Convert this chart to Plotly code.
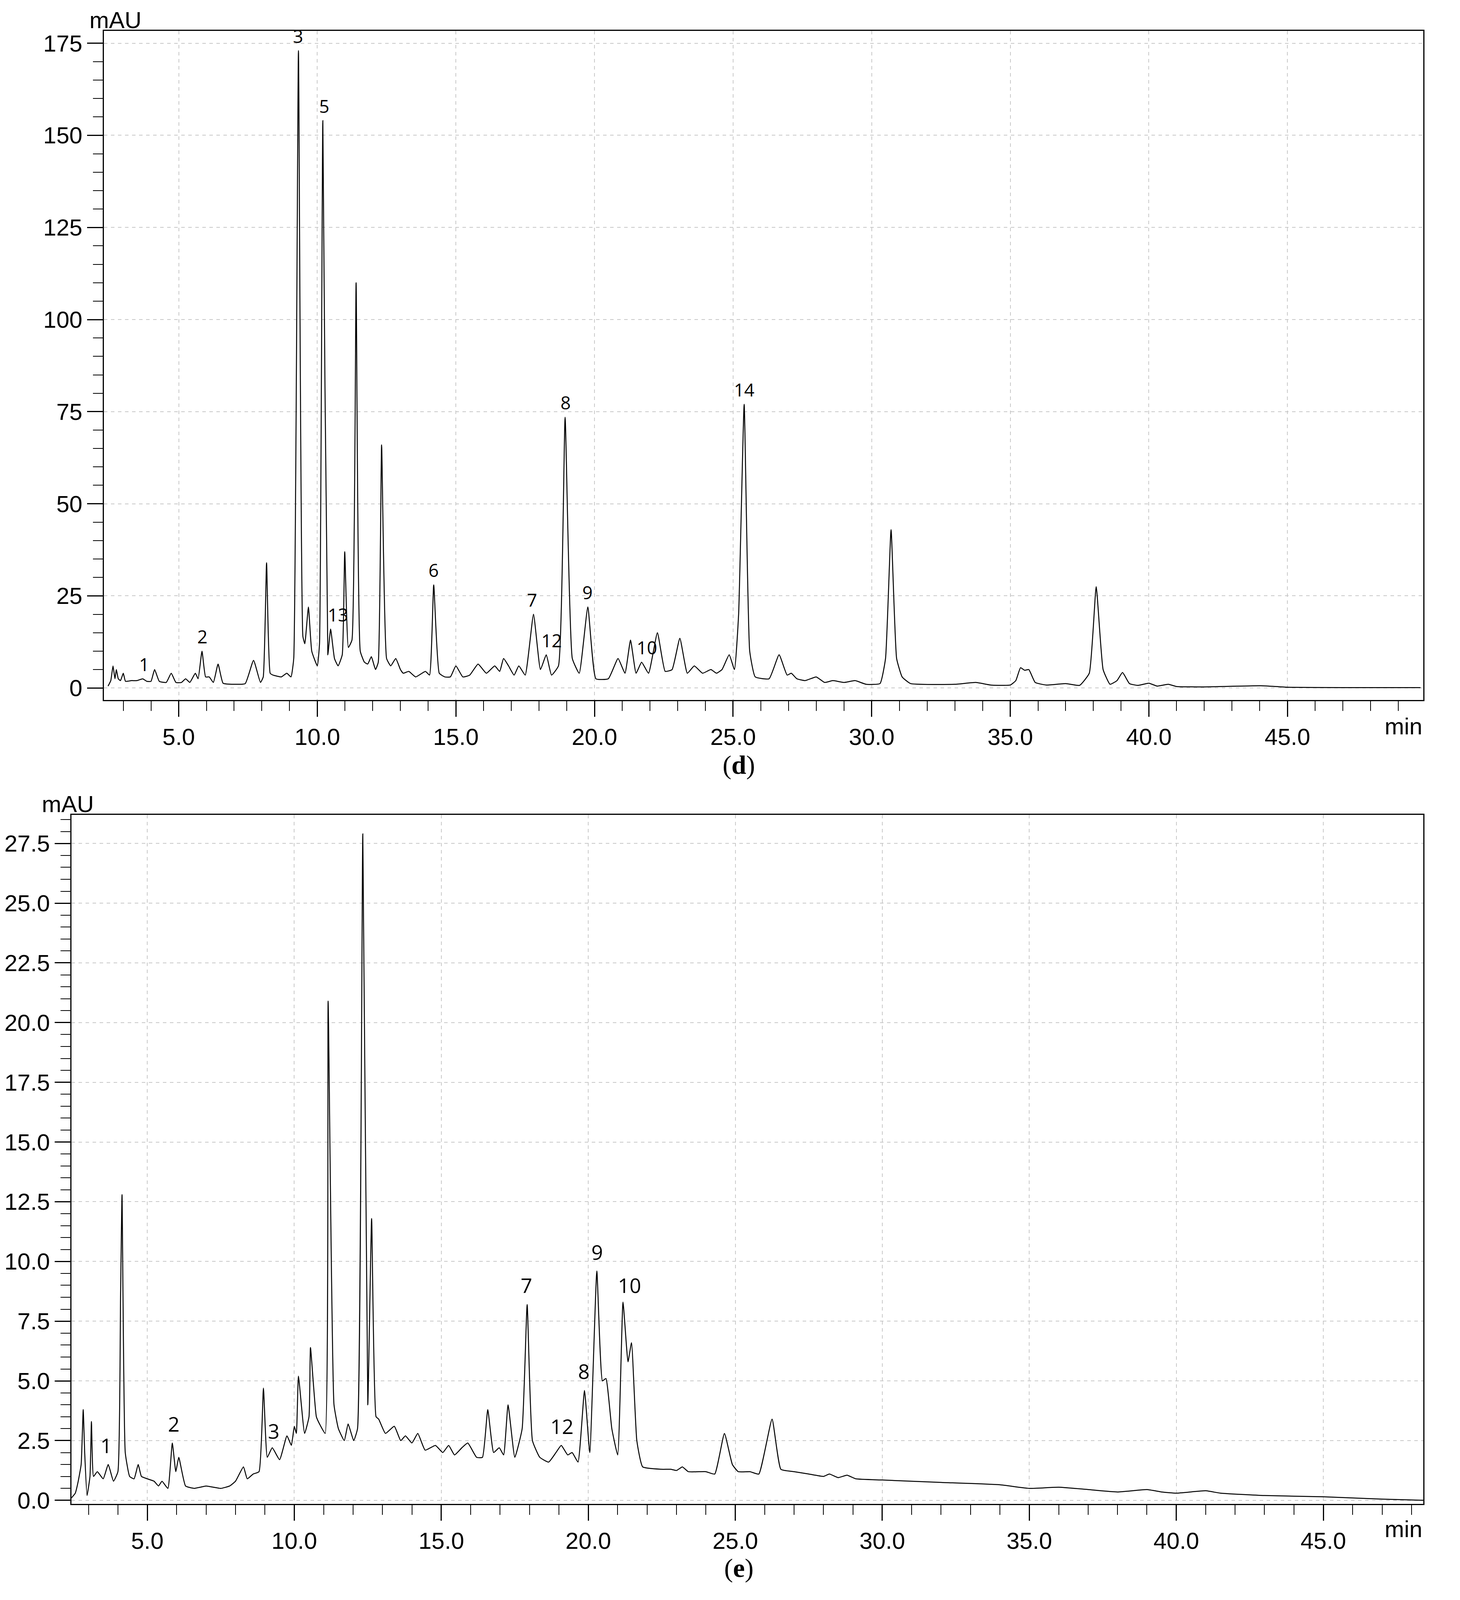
import plotly.graph_objects as go

# ── (d) chromatogram: retention time (min) / absorbance (mAU)
d_time = [2.45, 2.55, 2.63, 2.7, 2.75, 2.82, 2.9, 3.0, 3.08, 3.3, 3.5, 3.7, 3.85, 4.0,
          4.13, 4.3, 4.55, 4.73, 4.9, 5.1, 5.25, 5.4, 5.6, 5.7, 5.84, 5.97, 6.1, 6.25,
          6.42, 6.6, 7.0, 7.4, 7.7, 7.95, 8.05, 8.17, 8.3, 8.4, 8.7, 8.9, 9.05, 9.15,
          9.32, 9.48, 9.55, 9.68, 9.8, 10.0, 10.08, 10.2, 10.38, 10.48, 10.62, 10.75,
          10.9, 10.99, 11.12, 11.25, 11.4, 11.55, 11.7, 11.82, 11.95, 12.1, 12.2, 12.32,
          12.5, 12.65, 12.83, 13.0, 13.1, 13.3, 13.55, 13.9, 14.05, 14.2, 14.4, 14.6,
          14.8, 15.0, 15.25, 15.5, 15.8, 16.1, 16.4, 16.58, 16.72, 16.9, 17.1, 17.27,
          17.5, 17.8, 18.05, 18.26, 18.45, 18.7, 18.94, 19.2, 19.45, 19.76, 20.05, 20.5,
          20.85, 21.1, 21.3, 21.5, 21.7, 21.95, 22.27, 22.55, 22.8, 23.08, 23.35, 23.6,
          23.9, 24.2, 24.4, 24.6, 24.86, 25.05, 25.2, 25.4, 25.6, 25.8, 26.3, 26.66,
          26.95, 27.1, 27.3, 27.6, 28.0, 28.3, 28.6, 29.0, 29.4, 29.8, 30.3, 30.5, 30.7,
          30.9, 31.1, 31.4, 33.0, 33.75, 34.3, 35.0, 35.2, 35.37, 35.52, 35.67, 35.9,
          36.3, 37.0, 37.5, 37.85, 38.1, 38.35, 38.6, 38.85, 39.05, 39.3, 39.6, 40.0,
          40.3, 40.7, 41.0, 42.0, 44.05, 45.0, 47.0, 49.8]
d_mau = [0.5, 2.0, 6.0, 2.5, 5.0, 2.5, 2.0, 4.0, 1.8, 2.0, 2.0, 2.5, 1.8, 1.8,
         5.0, 1.8, 1.5, 4.0, 1.5, 1.5, 2.5, 1.5, 4.0, 2.5, 10.0, 3.0, 3.0, 1.5,
         6.5, 1.3, 1.0, 1.2, 7.5, 1.5, 3.0, 34.0, 4.0, 3.5, 3.0, 4.0, 3.0, 8.0,
         173.0, 14.0, 12.0, 22.0, 10.0, 6.0, 12.0, 154.0, 9.0, 16.0, 8.0, 6.0,
         9.0, 37.0, 11.0, 13.0, 110.0, 10.0, 7.0, 6.5, 8.5, 5.0, 7.0, 66.0,
         8.0, 6.0, 8.0, 5.0, 4.0, 4.5, 3.0, 4.5, 3.5, 28.0, 4.0, 3.0,
         3.0, 6.0, 3.0, 3.5, 6.5, 4.0, 6.0, 4.5, 8.0, 6.0, 3.5, 6.0,
         3.5, 20.0, 5.0, 9.0, 3.5, 6.0, 73.5, 8.0, 4.0, 22.0, 2.5, 2.5,
         8.0, 4.0, 13.0, 4.0, 7.0, 4.0, 15.0, 4.5, 5.0, 13.5, 4.0, 6.0,
         4.0, 5.0, 4.0, 5.0, 9.0, 5.0, 20.0, 77.0, 10.0, 3.0, 2.5, 9.0,
         3.5, 4.0, 2.5, 2.0, 3.0, 1.5, 2.0, 1.5, 2.0, 1.0, 1.2, 8.0, 43.0,
         8.0, 3.0, 1.2, 1.0, 1.5, 0.8, 0.8, 2.0, 5.5, 4.8, 5.0, 1.5,
         0.8, 1.2, 0.7, 4.0, 27.5, 5.0, 1.0, 2.0, 4.2, 1.2, 0.7, 1.3,
         0.5, 1.0, 0.4, 0.3, 0.6, 0.2, 0.1, 0.1]
d_label_text = ["1", "2", "3", "5", "13", "6", "7", "12", "8", "9", "10", "14"]
d_label_x = [3.75, 5.85, 9.3, 10.25, 10.75, 14.2, 17.75, 18.45, 18.95, 19.75, 21.9, 25.4]
d_label_y = [3.0, 10.5, 173.5, 154.5, 16.5, 28.5, 20.5, 9.5, 74.0, 22.5, 7.5, 77.5]

# ── (e) chromatogram
e_time = [2.42, 2.55, 2.65, 2.75, 2.82, 2.87, 2.95, 3.05, 3.1, 3.17, 3.3, 3.5, 3.67,
          3.85, 4.0, 4.09, 4.14, 4.25, 4.4, 4.55, 4.69, 4.8, 5.0, 5.23, 5.38, 5.5, 5.7,
          5.85, 5.97, 6.07, 6.3, 6.6, 7.0, 7.5, 7.8, 8.0, 8.27, 8.4, 8.6, 8.8, 8.95,
          9.08, 9.25, 9.5, 9.75, 9.9, 10.0, 10.07, 10.14, 10.35, 10.5, 10.55, 10.75,
          10.9, 11.05, 11.15, 11.35, 11.5, 11.7, 11.83, 12.02, 12.15, 12.33, 12.5,
          12.63, 12.78, 12.87, 13.1, 13.4, 13.62, 13.78, 14.0, 14.2, 14.45, 14.8, 15.05,
          15.25, 15.45, 15.7, 15.9, 16.2, 16.4, 16.58, 16.78, 16.97, 17.12, 17.27, 17.5,
          17.75, 17.92, 18.1, 18.35, 18.65, 18.9, 19.08, 19.3, 19.45, 19.65, 19.87,
          20.05, 20.29, 20.48, 20.6, 20.8, 21.0, 21.18, 21.35, 21.47, 21.65, 21.85,
          22.5, 22.8, 23.0, 23.2, 23.4, 24.0, 24.3, 24.63, 24.9, 25.1, 25.5, 25.8,
          26.25, 26.55, 27.0, 27.5, 28.0, 28.2, 28.5, 28.8, 29.1, 30.0, 32.0, 34.0,
          35.0, 36.0, 37.0, 38.0, 39.0, 39.5, 40.0, 41.0, 41.5, 43.0, 45.0, 47.0, 48.4]
e_mau = [0.1, 0.3, 0.8, 1.5, 3.8, 2.0, 0.2, 1.0, 3.3, 1.0, 1.2, 0.9, 1.5,
         0.8, 1.2, 8.5, 12.8, 2.0, 1.0, 0.9, 1.5, 1.0, 0.9, 0.8, 0.6, 0.8, 0.5,
         2.4, 1.2, 1.8, 0.6, 0.5, 0.6, 0.5, 0.6, 0.8, 1.4, 0.9, 1.1, 1.2, 4.7,
         1.8, 2.2, 1.7, 2.7, 2.3, 3.1, 2.8, 5.2, 2.8, 3.5, 6.4, 3.5,
         3.1, 2.8, 20.9, 4.0, 3.0, 2.5, 3.2, 2.5, 3.0, 27.9, 4.0,
         11.8, 3.5, 3.4, 2.8, 3.1, 2.5, 2.7, 2.4, 2.8, 2.1, 2.3, 2.0,
         2.3, 1.9, 2.2, 2.4, 1.8, 1.8, 3.8, 2.0, 2.2, 1.9, 4.0, 1.8,
         3.0, 8.2, 2.5, 1.8, 1.6, 2.0, 2.3, 1.9, 2.0, 1.6, 4.6,
         2.0, 9.6, 5.0, 5.1, 3.0, 1.9, 8.3, 5.8, 6.6, 2.5, 1.4,
         1.3, 1.3, 1.25, 1.4, 1.2, 1.2, 1.1, 2.8, 1.5, 1.2, 1.2, 1.1,
         3.4, 1.3, 1.2, 1.1, 1.0, 1.1, 0.95, 1.05, 0.9, 0.85, 0.75, 0.65,
         0.5, 0.55, 0.45, 0.35, 0.45, 0.35, 0.3, 0.4, 0.3, 0.2, 0.15, 0.05, 0.0]
e_label_text = ["1", "2", "3", "7", "12", "8", "9", "10"]
e_label_x = [3.6, 5.9, 9.3, 17.9, 19.1, 19.85, 20.3, 21.4]
e_label_y = [1.7, 2.6, 2.3, 8.4, 2.5, 4.8, 9.8, 8.4]

TICK_FONT = dict(family="Liberation Sans", size=60, color="black")
GRID = "#c8c8c8"

fig = go.Figure()
fig.add_trace(go.Scatter(x=d_time, y=d_mau, mode="lines", line_shape="spline",
                         line=dict(color="black", width=2.5, smoothing=0.4),
                         xaxis="x", yaxis="y"))
fig.add_trace(go.Scatter(x=e_time, y=e_mau, mode="lines", line_shape="spline",
                         line=dict(color="black", width=2.5, smoothing=0.4),
                         xaxis="x2", yaxis="y2"))

axis_common = dict(showline=True, linecolor="black", linewidth=3, mirror=True,
                   ticks="outside", tickcolor="black", tickwidth=3, ticklen=40,
                   showgrid=True, gridcolor=GRID, griddash="dash", gridwidth=2,
                   zeroline=False, tickfont=TICK_FONT)
x_ticks = [5, 10, 15, 20, 25, 30, 35, 40, 45]
x_text = ["5.0", "10.0", "15.0", "20.0", "25.0", "30.0", "35.0", "40.0", "45.0"]
minor_x = dict(dtick=1, tick0=0, ticks="outside", ticklen=25,
               tickcolor="black", tickwidth=2, showgrid=False)

fig.update_layout(
    width=3738, height=4120,   # photo window is shorter than 4481; keep everything visible
    margin=dict(l=0, r=0, t=0, b=0),
    paper_bgcolor="white", plot_bgcolor="white",
    showlegend=False,
    xaxis=dict(domain=[0.069, 0.9727], range=[2.3, 49.9], anchor="y",
               tickvals=x_ticks, ticktext=x_text, minor=minor_x, **axis_common),
    yaxis=dict(domain=[0.5644, 0.983], range=[-3.3, 178.4], anchor="x",
               tickvals=[0, 25, 50, 75, 100, 125, 150, 175],
               minor=dict(dtick=5, tick0=0, ticks="outside", ticklen=25,
                          tickcolor="black", tickwidth=2, showgrid=False),
               **axis_common),
    xaxis2=dict(domain=[0.0468, 0.9727], range=[2.42, 48.4], anchor="y2",
                tickvals=x_ticks, ticktext=x_text, minor=minor_x, **axis_common),
    yaxis2=dict(domain=[0.0618, 0.4927], range=[-0.15, 28.7], anchor="x2",
                tickvals=[0, 2.5, 5, 7.5, 10, 12.5, 15, 17.5, 20, 22.5, 25, 27.5],
                tickformat=".1f",
                minor=dict(dtick=0.5, tick0=0, ticks="outside", ticklen=25,
                           tickcolor="black", tickwidth=2, showgrid=False),
                **axis_common),
)

# peak numbers
for t, x, y in zip(d_label_text, d_label_x, d_label_y):
    fig.add_annotation(x=x, y=y, xref="x", yref="y", text=t, showarrow=False,
                       yanchor="bottom", font=dict(family="Open Sans", size=46, color="black"))
for t, x, y in zip(e_label_text, e_label_x, e_label_y):
    fig.add_annotation(x=x, y=y, xref="x2", yref="y2", text=t, showarrow=False,
                       yanchor="bottom", font=dict(family="Open Sans", size=52, color="black"))

# unit labels and panel letters
for xp, yp in [(0.077, 0.9895), (0.0444, 0.4995)]:
    fig.add_annotation(x=xp, y=yp, xref="paper", yref="paper", text="mAU", showarrow=False,
                       xanchor="center", yanchor="middle", font=TICK_FONT)
for yp in [0.548, 0.046]:
    fig.add_annotation(x=0.9727, y=yp, xref="paper", yref="paper", text="min", showarrow=False,
                       xanchor="right", yanchor="middle", font=TICK_FONT)
for yp, letter in [(0.524, "d"), (0.012, "e")]:
    fig.add_annotation(x=0.504, y=yp, xref="paper", yref="paper",
                       text=f"(<b>{letter}</b>)", showarrow=False,
                       font=dict(family="Liberation Serif", size=68, color="black"))

fig.write_html("out.html")
